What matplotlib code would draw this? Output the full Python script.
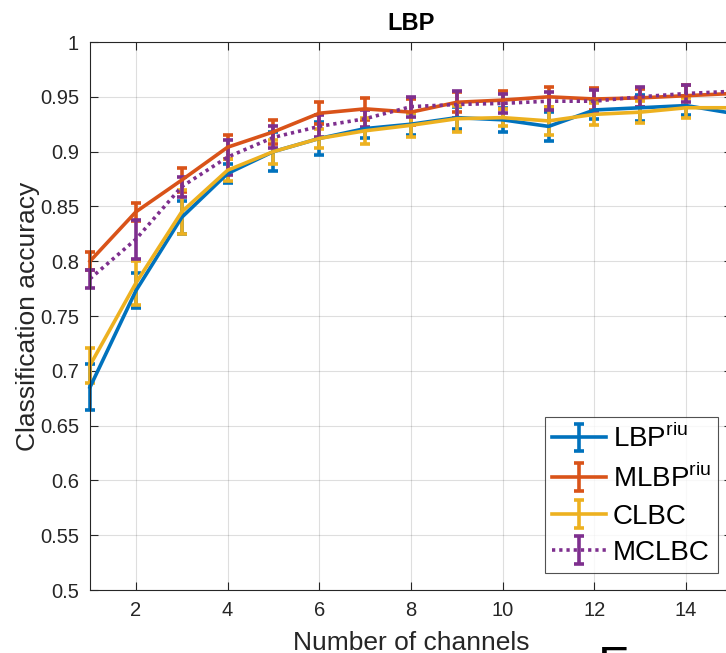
import numpy as np
import matplotlib
matplotlib.use("Agg")
import matplotlib.pyplot as plt

# number of channels
channels = [1, 2, 3, 4, 5, 6, 7, 8, 9, 10, 11, 12, 13, 14, 15]

# mean accuracy and error half-widths
lbp_mean = [0.685, 0.773, 0.840, 0.880, 0.900, 0.912, 0.921, 0.925, 0.931, 0.929, 0.923, 0.938, 0.940, 0.942, 0.935]
lbp_err = [0.021, 0.016, 0.015, 0.009, 0.018, 0.015, 0.009, 0.010, 0.010, 0.011, 0.013, 0.008, 0.012, 0.009, 0.009]

mlbp_mean = [0.800, 0.845, 0.874, 0.904, 0.918, 0.935, 0.939, 0.936, 0.945, 0.947, 0.950, 0.948, 0.949, 0.951, 0.953]
mlbp_err = [0.008, 0.008, 0.011, 0.011, 0.011, 0.010, 0.010, 0.012, 0.009, 0.008, 0.009, 0.010, 0.008, 0.010, 0.009]

clbc_mean = [0.705, 0.780, 0.845, 0.883, 0.900, 0.912, 0.919, 0.924, 0.930, 0.931, 0.928, 0.934, 0.936, 0.940, 0.940]
clbc_err = [0.016, 0.020, 0.020, 0.010, 0.011, 0.009, 0.012, 0.011, 0.012, 0.008, 0.013, 0.010, 0.010, 0.009, 0.009]

mclbc_mean = [0.784, 0.820, 0.868, 0.895, 0.913, 0.923, 0.930, 0.941, 0.943, 0.944, 0.946, 0.946, 0.950, 0.953, 0.955]
mclbc_err = [0.008, 0.018, 0.009, 0.016, 0.010, 0.010, 0.008, 0.009, 0.012, 0.009, 0.008, 0.010, 0.009, 0.008, 0.008]

labels = [r"LBP$^{\mathregular{riu}}$", r"MLBP$^{\mathregular{riu}}$", "CLBC", "MCLBC"]
colors = ["#0072BD", "#D95319", "#EDB120", "#7E2F8E"]

plt.rcParams["font.family"] = ["Liberation Sans", "DejaVu Sans"]
plt.rcParams["mathtext.fontset"] = "custom"
plt.rcParams["mathtext.rm"] = "Liberation Sans"

fig = plt.figure(figsize=(7.26, 6.53), dpi=100)
ax = fig.add_axes([90 / 726, 63 / 653, 642 / 726, 548 / 653])

series = [(lbp_mean, lbp_err), (mlbp_mean, mlbp_err), (clbc_mean, clbc_err), (mclbc_mean, mclbc_err)]
styles = ["-", "-", "-", (0, (0.9, 1.1))]

for (m, e), lab, c, ls in zip(series, labels, colors, styles):
    cont = ax.errorbar(channels, m, yerr=e, color=c, label=lab, linewidth=2.6,
                       linestyle=ls, elinewidth=2.6, capsize=3.8, capthick=2.6)
    # MATLAB does not clip the error bars at the axes edge
    cont[0].set_clip_on(False)
    for art in cont[1]:
        art.set_clip_on(False)
    for art in cont[2]:
        art.set_clip_on(False)

ax.set_xlim(1, 15)
ax.set_ylim(0.5, 1)
ax.set_xticks([2, 4, 6, 8, 10, 12, 14])
ax.set_yticks(np.arange(0.5, 1.001, 0.05))
ax.set_yticklabels(["0.5", "0.55", "0.6", "0.65", "0.7", "0.75", "0.8", "0.85", "0.9", "0.95", "1"])

ax.grid(True, color="#262626", alpha=0.15, linewidth=0.8)
ax.set_axisbelow(True)
ax.tick_params(direction="in", top=True, right=True, length=6, width=0.8,
               labelsize=14.5, colors="#262626", pad=8)
for s in ax.spines.values():
    s.set_color("#262626")
    s.set_linewidth(0.8)

ax.set_xlabel("Number of channels", fontsize=19, color="#262626", labelpad=8)
ax.set_ylabel("Classification accuracy", fontsize=19, color="#262626", labelpad=0)
ax.set_title("LBP", fontsize=17, fontweight="bold", pad=9)

leg = ax.legend(loc="lower right", bbox_to_anchor=(0.978, 0.031), borderaxespad=0,
                fontsize=20, frameon=True, fancybox=False, handlelength=1.95,
                handletextpad=0.25, labelspacing=0.38, borderpad=0.25)
leg.get_frame().set_edgecolor("#262626")
leg.get_frame().set_linewidth(0.8)
leg.set_zorder(5)

# cut-off caption letter at the bottom edge
fig.text(598 / 726, -0.045, "F", fontsize=36, color="black")

fig.savefig("out.png", dpi=100)
